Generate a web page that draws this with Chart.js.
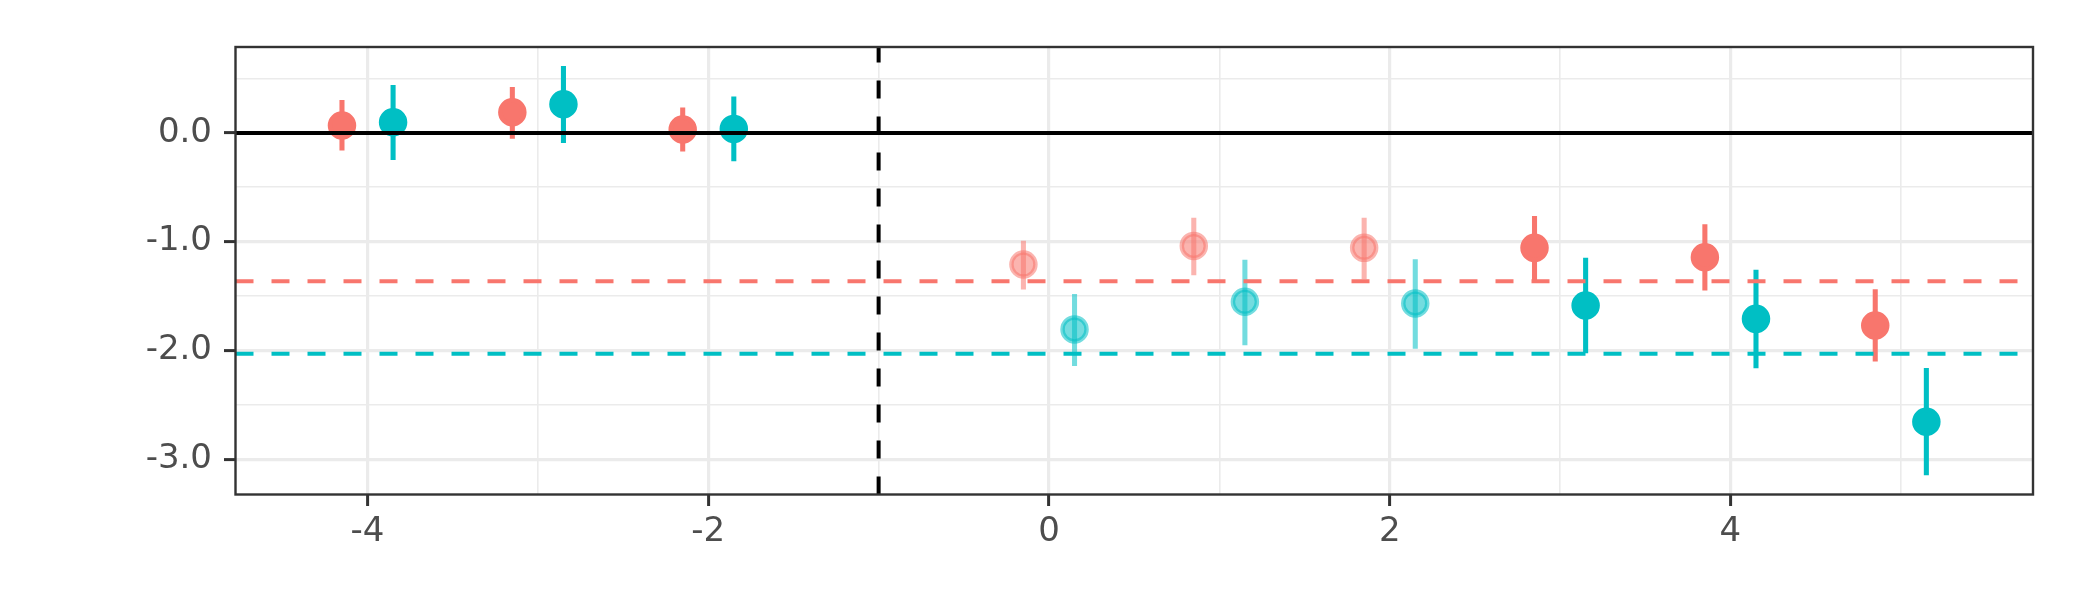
<!DOCTYPE html>
<html>
<head>
<meta charset="utf-8">
<script src="https://cdn.jsdelivr.net/npm/chart.js@4.4.1/dist/chart.umd.min.js"></script>
<style>
  html, body { margin: 0; padding: 0; background: #ffffff; }
  #wrap { width: 2100px; height: 600px; }
</style>
</head>
<body>
<div id="wrap"><canvas id="chartEventStudy" width="2100" height="600"></canvas></div>
<script>
// Periods relative to treatment (period -1 is the reference, not estimated)
const periods = [-4, -3, -2, 0, 1, 2, 3, 4, 5];
const isFaded = [false, false, false, true, true, true, false, false, false];
const dodge = 0.15;

// Red group: estimate and interval bounds
const redEstimate = [0.068, 0.19, 0.031, -1.21, -1.039, -1.057, -1.057, -1.143, -1.771];
const redLow = [-0.159, -0.05, -0.168, -1.437, -1.305, -1.342, -1.354, -1.446, -2.10];
const redHigh = [0.30, 0.42, 0.23, -0.995, -0.784, -0.784, -0.766, -0.842, -1.44];

// Teal group: estimate and interval bounds
const tealEstimate = [0.098, 0.264, 0.037, -1.807, -1.553, -1.568, -1.587, -1.71, -2.656];
const tealLow = [-0.245, -0.089, -0.257, -2.14, -1.949, -1.982, -2.022, -2.16, -3.146];
const tealHigh = [0.437, 0.613, 0.331, -1.485, -1.17, -1.164, -1.152, -1.262, -2.165];

// Average post-period effects (dashed lines)
const redMean = -1.363;
const tealMean = -2.03;
const referencePeriod = -1;

// Ticks
const xTicks = [-4, -3, -2, -1, 0, 1, 2, 3, 4, 5];
const xTickLabels = [-4, -2, 0, 2, 4];
const yTicks = [-3, -2.5, -2, -1.5, -1, -0.5, 0, 0.5];
const yTickLabels = [-3, -2, -1, 0];

// Axis ranges
const xMin = -4.775, xMax = 5.776;
const yMin = -3.325, yMax = 0.79;

const RED = '#F8766D';
const TEAL = '#00BFC4';
const RED_FADED = 'rgba(248, 118, 109, 0.55)';
const TEAL_FADED = 'rgba(0, 191, 196, 0.55)';

/**
 * Color by point: faded for the first post periods
 */
function pickColor(solid, faded) {
  return function(context) {
    return isFaded[context.dataIndex] ? faded : solid;
  };
}

function errorBars(offset, low, high, solid, faded) {
  return {
    type: 'bar',
    data: periods.map((p, i) => ({ x: p + offset, y: [low[i], high[i]] })),
    backgroundColor: pickColor(solid, faded),
    borderWidth: 0,
    barThickness: 4.4,
    grouped: false,
    order: 6
  };
}

function estimates(offset, values, solid, faded) {
  return {
    type: 'scatter',
    data: periods.map((p, i) => ({ x: p + offset, y: values[i] })),
    pointRadius: 12,
    pointBorderWidth: 4.5,
    pointBackgroundColor: pickColor(solid, faded),
    pointBorderColor: pickColor(solid, faded),
    pointHoverRadius: 12,
    order: 5
  };
}

function refLine(points, color, dashed, order) {
  return {
    type: 'line',
    data: points,
    borderColor: color,
    borderWidth: 4,
    borderDash: dashed ? [18, 18] : [],
    pointRadius: 0,
    fill: false,
    tension: 0,
    order: order
  };
}

// Frame around the panel (theme_bw border)
const panelBorder = {
  id: 'panelBorder',
  afterDraw(chart) {
    const { ctx, chartArea: a } = chart;
    ctx.save();
    ctx.strokeStyle = '#333333';
    ctx.lineWidth = 2.4;
    ctx.strokeRect(a.left, a.top, a.right - a.left, a.bottom - a.top);
    ctx.restore();
  }
};

const tickFont = { family: 'DejaVu Sans', size: 34 };

const ctx = document.getElementById('chartEventStudy').getContext('2d');
const chart = new Chart(ctx, {
  type: 'scatter',
  data: {
    datasets: [
      errorBars(-dodge, redLow, redHigh, RED, RED_FADED),
      errorBars(dodge, tealLow, tealHigh, TEAL, TEAL_FADED),
      estimates(-dodge, redEstimate, RED, RED_FADED),
      estimates(dodge, tealEstimate, TEAL, TEAL_FADED),
      refLine([{ x: xMin, y: redMean }, { x: xMax, y: redMean }], RED, true, 3),
      refLine([{ x: xMin, y: tealMean }, { x: xMax, y: tealMean }], TEAL, true, 3),
      refLine([{ x: xMin, y: 0 }, { x: xMax, y: 0 }], '#000000', false, 2),
      refLine([{ x: referencePeriod, y: yMin }, { x: referencePeriod, y: yMax }], '#000000', true, 1)
    ]
  },
  options: {
    responsive: false,
    devicePixelRatio: 1,
    animation: false,
    layout: { padding: { left: 0, right: 67, top: 47, bottom: 0 } },
    plugins: {
      legend: { display: false },
      tooltip: { enabled: false }
    },
    scales: {
      x: {
        type: 'linear',
        min: xMin,
        max: xMax,
        offset: false,
        border: { display: false },
        afterBuildTicks: scale => { scale.ticks = xTicks.map(v => ({ value: v })); },
        afterFit: scale => { scale.height = 105.5; },
        grid: {
          offset: false,
          color: '#EBEBEB',
          lineWidth: c => (c.tick && xTickLabels.includes(c.tick.value)) ? 3.2 : 1.6,
          tickLength: 11.5,
          tickWidth: 3,
          tickColor: c => (c.tick && xTickLabels.includes(c.tick.value)) ? '#333333' : 'rgba(0,0,0,0)'
        },
        ticks: {
          autoSkip: false,
          maxRotation: 0,
          padding: 6,
          color: '#4D4D4D',
          font: tickFont,
          callback: v => xTickLabels.includes(v) ? String(v) : ''
        }
      },
      y: {
        type: 'linear',
        min: yMin,
        max: yMax,
        border: { display: false },
        afterBuildTicks: scale => { scale.ticks = yTicks.map(v => ({ value: v })); },
        afterFit: scale => { scale.width = 235.5; },
        grid: {
          color: '#EBEBEB',
          lineWidth: c => (c.tick && yTickLabels.includes(c.tick.value)) ? 3.2 : 1.6,
          tickLength: 11.5,
          tickWidth: 3,
          tickColor: c => (c.tick && yTickLabels.includes(c.tick.value)) ? '#333333' : 'rgba(0,0,0,0)'
        },
        ticks: {
          autoSkip: false,
          padding: 12,
          color: '#4D4D4D',
          font: tickFont,
          callback: v => yTickLabels.includes(v) ? v.toFixed(1) : ''
        }
      }
    }
  },
  plugins: [panelBorder]
});
</script>
</body>
</html>
